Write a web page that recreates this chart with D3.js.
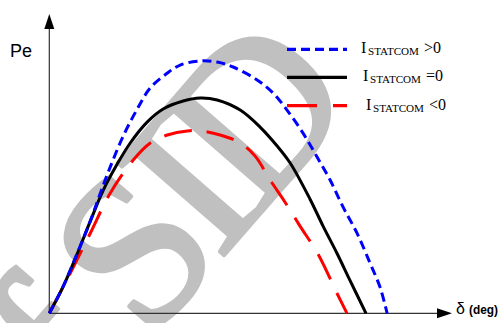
<!DOCTYPE html>
<html>
<head>
<meta charset="utf-8">
<script src="https://cdn.jsdelivr.net/npm/d3@7/dist/d3.min.js"></script>
<style>
  html, body { margin: 0; padding: 0; background: #fff; }
  svg { display: block; }
</style>
</head>
<body>
<svg id="chart" width="500" height="323"></svg>
<script>
// ---- data ----
const seriesNames = ["I_STATCOM > 0", "I_STATCOM = 0", "I_STATCOM < 0"];
const legendSigns = [">0", "=0", "<0"];

// I_STATCOM > 0 (blue, short dashes)
const blueDelta = [0, 7.95, 15.9, 23.3, 29, 34.6, 42, 50, 57.4, 67.1, 74.4, 85.7, 95.4, 104.5, 118.1, 127.2, 135.1, 144.2, 152.2, 159.6, 167, 174.9, 182.3, 188, 192];
const bluePe    = [0, 0.126, 0.279, 0.428, 0.558, 0.679, 0.823, 0.949, 1.047, 1.116, 1.153, 1.172, 1.167, 1.144, 1.084, 1.023, 0.944, 0.837, 0.726, 0.619, 0.493, 0.372, 0.233, 0.121, 0];

// I_STATCOM = 0 (black, solid)
const blackDelta = [0, 8, 16, 23.3, 30.7, 38.6, 46, 55.6, 64.7, 76.1, 85.7, 95.4, 108.5, 119.8, 129.5, 136.9, 148.2, 155.6, 163.5, 170.9, 180];
const blackPe    = [0, 0.126, 0.279, 0.428, 0.572, 0.693, 0.791, 0.888, 0.949, 0.986, 1.0, 0.991, 0.944, 0.865, 0.777, 0.698, 0.530, 0.405, 0.279, 0.153, 0];

// I_STATCOM < 0 (red, long dashes)
const redDelta = [0, 11.9, 23.3, 34.6, 47.7, 57.4, 67.1, 78.4, 85.7, 97.1, 108.5, 117, 125.5, 134, 142.5, 152.8, 163.5, 169.2];
const redPe    = [0, 0.186, 0.372, 0.558, 0.712, 0.791, 0.828, 0.847, 0.847, 0.828, 0.791, 0.730, 0.619, 0.516, 0.405, 0.274, 0.093, 0];

const xLabel = "δ";
const xUnit = "(deg)";
const yLabel = "Pe";
const watermark = "of SID";

// ---- layout ----
const svg = d3.select("#chart");
const x = d3.scaleLinear().domain([0, 180]).range([49.3, 366]);
const y = d3.scaleLinear().domain([0, 1]).range([313.3, 98]);

const xAxisEnd = 452, yAxisEnd = 14;

// watermark (behind everything)
svg.append("text")
  .attr("transform", "translate(352,108) rotate(-49)")
  .attr("text-anchor", "end")
  .attr("font-family", "'Liberation Serif', 'Times New Roman', serif")
  .attr("font-size", 215)
  .attr("letter-spacing", -12)
  .attr("fill", "#c0c0c0")
  .attr("stroke", "#c0c0c0")
  .attr("stroke-width", 4)
  .attr("stroke-linejoin", "round")
  .text(watermark);

// axes
const axisColor = "#333";
svg.append("line")
  .attr("x1", x(0)).attr("y1", y(0))
  .attr("x2", xAxisEnd - 14).attr("y2", y(0))
  .attr("stroke", axisColor).attr("stroke-width", 1.2);
svg.append("line")
  .attr("x1", x(0)).attr("y1", y(0))
  .attr("x2", x(0)).attr("y2", yAxisEnd + 13)
  .attr("stroke", axisColor).attr("stroke-width", 1.2);
// arrow heads
svg.append("path")
  .attr("d", `M${xAxisEnd},${y(0)} L${xAxisEnd - 15},${y(0) - 5} L${xAxisEnd - 15},${y(0) + 5} Z`)
  .attr("fill", "#000");
svg.append("path")
  .attr("d", `M${x(0)},${yAxisEnd} L${x(0) - 5},${yAxisEnd + 15} L${x(0) + 5},${yAxisEnd + 15} Z`)
  .attr("fill", "#000");

// axis labels
svg.append("text")
  .attr("x", 10).attr("y", 57)
  .attr("font-family", "'Liberation Sans', Arial, sans-serif")
  .attr("font-size", 18)
  .attr("fill", "#000")
  .text(yLabel);
svg.append("text")
  .attr("x", 456).attr("y", 314)
  .attr("font-family", "'Liberation Sans', Arial, sans-serif")
  .attr("font-size", 16)
  .attr("fill", "#000")
  .text(xLabel);
svg.append("text")
  .attr("x", 469).attr("y", 314)
  .attr("font-family", "'Liberation Sans Narrow', 'Arial Narrow', 'Liberation Sans', sans-serif")
  .attr("font-weight", "bold")
  .attr("font-size", 13.5)
  .attr("textLength", 29)
  .attr("lengthAdjust", "spacingAndGlyphs")
  .attr("fill", "#000")
  .text(xUnit);

// curves
const line = d3.line()
  .x(d => x(d[0]))
  .y(d => y(d[1]))
  .curve(d3.curveCatmullRom.alpha(0.5));

const series = [
  { name: seriesNames[0], delta: blueDelta, pe: bluePe, color: "#0000ff", dash: "9,5", width: 3 },
  { name: seriesNames[1], delta: blackDelta, pe: blackPe, color: "#000000", dash: null, width: 3 },
  { name: seriesNames[2], delta: redDelta, pe: redPe, color: "#ff0000", dash: "28,15", width: 3 }
];

svg.selectAll("path.curve")
  .data(series.slice().reverse())
  .join("path")
  .attr("class", "curve")
  .attr("d", s => line(s.delta.map((d, i) => [d, s.pe[i]])))
  .attr("fill", "none")
  .attr("stroke", s => s.color)
  .attr("stroke-width", s => s.width)
  .attr("stroke-dasharray", s => s.dash);

// legend
const legendY = [49.3, 77.3, 105.7];
const legendTextX = [361, 363, 366];
const legendSignX = [424, 426, 429];
const serif = "'Liberation Serif', 'Times New Roman', serif";

series.forEach((s, i) => {
  const g = svg.append("g");
  g.append("line")
    .attr("x1", 287).attr("x2", 347)
    .attr("y1", legendY[i]).attr("y2", legendY[i])
    .attr("stroke", s.color).attr("stroke-width", 3.2)
    .attr("stroke-dasharray", i === 2 ? "30,16" : s.dash);
  const by = legendY[i] + 4;
  g.append("text")
    .attr("x", legendTextX[i]).attr("y", by)
    .attr("font-family", serif).attr("font-size", 16).attr("fill", "#000")
    .text("I");
  g.append("text")
    .attr("x", legendTextX[i] + 7).attr("y", by + 2)
    .attr("font-family", serif).attr("font-size", 10.5).attr("fill", "#000")
    .attr("textLength", 51).attr("lengthAdjust", "spacingAndGlyphs")
    .text("STATCOM");
  g.append("text")
    .attr("x", legendSignX[i]).attr("y", by)
    .attr("font-family", serif).attr("font-size", 16).attr("fill", "#000")
    .text(legendSigns[i]);
});
</script>
</body>
</html>
